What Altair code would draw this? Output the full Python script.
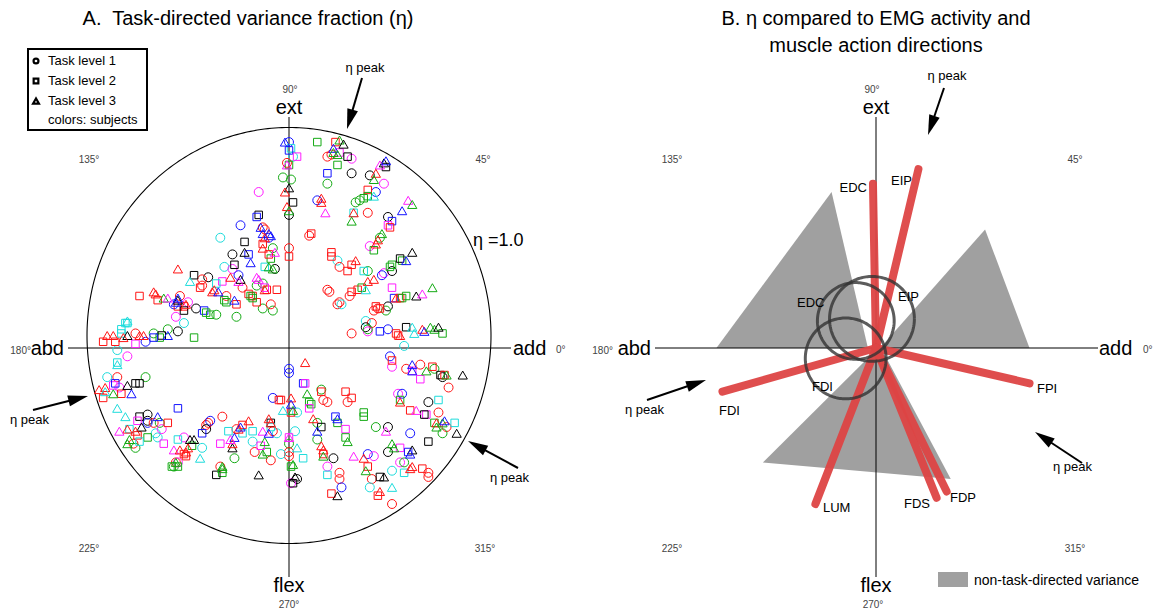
import math
import altair as alt
import pandas as pd
import numpy as np

FONT = "Liberation Sans"

# ================= Panel A data (eta components: x = add(+)/abd(-), y = ext(+)/flex(-)) =================
# Task level 1 (circles)
l1_subj = list("bcrggkmrrm" "kgkmbggbrk" "grmrcrgmbk" "rrrrrckgrr" "crkmgrbcbm" "rrgbkrgrrr"
               "cmbkrrgbgg" "kgcgrrmkbm" "kmgrrcrrrb" "crkmcrgmkk" "brgrgccmmc" "rgmrrbkrgr"
               "crrccrbrbc" "kcmbkrrrgr" "ggrggkgrrb" "rbmkgmckgg" "brcmb")
l1_x = [.00, .02, -.01, -.03, .01, .00, -.15, .19, .21, .31,
        .31, .19, .40, .47, .43, .33, .35, .14, .39, .49,
        .45, .10, .40, .00, .24, .25, .39, .47, .46, .51,
        .19, .20, .30, .24, .25, .26, .49, .48, .44, .42,
        .38, .41, .38, .39, .39, .31, .49, .57, .50, .51,
        .58, .65, .72, .00, .76, .79, .16, .29, .17, .19,
        .04, .54, .56, .69, .74, .78, .76, .60, .14, .43,
        .49, .14, .03, .00, .00, .00, .19, .22, .39, .42,
        .49, .55, .57, .69, .69, .51, .25, .25, .41, .26,
        .40, .51, .04, .01, -.90, -.85, -.71, -.84, -.70, -.70,
        -.70, -.67, -.64, -.77, -.76, -.66, -.65, -.63, -.52, -.43,
        -.56, -.57, -.55, -.41, -.40, -.39, -.41, -.33, -.27, -.34,
        -.18, -.17, -.09, -.06, -.04, -.08, -.08, -.26, -.24, -.34,
        -.28, -.32, -.28, -.25, -.40, -.43, -.43, -.31, -.26, -.23,
        -.13, -.08, -.09, -.16, -.13, -.07, -.08, -.13, -.12, -.10,
        -.54, -.57, -.50, -.46, -.36, -.56, -.52, -.55, -.60, -.67,
        -.71, -.76, -.85, -.80, .00]
l1_y = [.99, .92, .89, .82, .81, .64, .75, .92, .93, .91,
        .84, .79, .83, .79, .75, .70, .71, .71, .65, .63,
        .53, .54, .49, .48, .42, .39, .37, .36, .35, .37,
        .28, .27, .25, .21, .22, .21, .20, .18, .19, .18,
        .13, .12, .10, .08, .09, .07, .09, .01, -.04, -.09,
        -.10, -.08, -.10, -.12, -.14, -.19, -.20, -.26, -.25, -.26,
        -.31, -.22, -.22, -.26, -.31, -.38, -.41, -.41, -.36, -.38,
        -.38, -.44, -.40, -.46, -.50, -.52, -.57, -.53, -.51, -.52,
        -.50, -.55, -.55, -.60, -.62, -.59, -.60, -.63, -.63, -.67,
        -.67, -.75, -.63, -.65, -.14, -.14, -.14, -.19, -.32, -.35,
        -.36, -.36, -.36, -.46, -.48, -.41, -.43, -.39, -.43, -.48,
        -.55, -.57, -.55, -.37, -.36, -.35, -.39, -.33, -.53, -.57,
        -.45, -.50, -.54, -.41, -.51, -.40, -.24, -.39, .59, .53,
        .45, .39, .38, .35, .34, .33, .30, .25, .15, .29,
        .19, .18, .21, .30, .31, .38, .48, .58, .57, .53,
        .25, .21, .22, .19, .16, .15, .12, .08, .09, .07,
        .03, .07, -.01, -.04, -.10]

# Task level 2 (squares)
l2_subj = list("cbmgkkbgrm" "kgbkrggcbm" "rrgrrrrrcg" "ggkrrgmgbr" "grrbkrrgrr" "mkrmbmrrrg"
               "gmrrgcrmkg" "ckbgkggmgm" "cgrcrmbcrk" "rrkkkmbrrb" "krmcrgcmcg" "rrggbmcrgk"
               "ccgmkcr" "kbkkrmcggrrr" "rggrrmcgr" "rrrrrkbggg" "gkbmrrccccc")
l2_x = [.01, .00, .04, .00, .02, -.15, -.16, .14, .23, .25,
        .29, .24, .19, .48, .39, .39, .37, .32, .51, .49,
        .50, .11, .42, .00, .21, .21, .31, .29, .37, .50,
        .51, .56, .55, .31, .34, .36, .51, .58, .52, .55,
        .56, .43, .45, .45, .58, .53, .54, .76, .51, .71,
        .61, .75, .77, .65, .07, .08, .16, .28, .31, .10,
        .11, .10, -.04, .01, .55, .74, .60, .68, .67, .72,
        .82, .69, .23, .24, .16, .37, .37, .28, .28, .00,
        .07, .01, .17, .19, .39, .55, .59, .57, .66, .45,
        .44, .21, .02, -.76, -.74, -.87, -.86, -.92, -.83, -.55,
        -.74, -.60, -.75, -.79, -.75, -.70, -.74, -.62, -.55, -.48,
        -.52, -.51, -.58, -.55, -.43, -.34, -.30, -.23, -.33, -.36,
        -.23, -.18, -.11, -.14, -.09, -.09, -.05,
        -.22, -.20, -.27, -.47, -.44, -.33, -.36, -.32, -.31, -.26, -.20, -.18,
        -.16, -.19, -.18, -.06, -.11, -.12, -.12, -.09, -.10,
        -.13, -.74, -.65, -.55, -.52, -.52, -.42, -.41, -.39, -.47,
        -.64, -.63, -.67, -.76, -.92, -.86, -.83, -.81, -.80, -.83, -.85]
l2_y = [.96, .95, .92, .88, .70, .64, .63, .99, .99, .94,
        .92, .88, .84, .87, .76, .73, .72, .65, .61, .59,
        .58, .55, .47, .44, .46, .44, .40, .37, .37, .39,
        .40, .42, .43, .27, .28, .29, .29, .25, .24, .24,
        .24, .20, .19, .08, .10, .07, .06, .07, -.06, -.09,
        -.11, -.13, -.13, -.15, -.17, -.17, -.21, -.21, -.24, -.26,
        -.27, -.29, -.25, -.31, -.25, -.25, -.30, -.32, -.32, -.36,
        -.36, -.45, -.33, -.36, -.38, -.31, -.33, -.39, -.43, -.43,
        -.53, -.57, -.51, -.61, -.57, -.48, -.50, -.60, -.58, -.62,
        -.71, -.70, -.65, -.17, -.17, -.18, -.17, -.24, -.22, -.29,
        -.33, -.36, -.35, -.39, -.42, -.43, -.45, -.46, -.44, -.47,
        -.51, -.52, -.57, -.57, -.41, -.46, -.40, -.37, -.60, -.61,
        -.41, -.40, -.50, -.47, -.36, -.38, -.25,
        .51, .45, .40, .35, .29, .32, .31, .23, .22, .21, .26, .25,
        .22, .25, .24, .28, .28, .29, .39, .43, .45,
        .50, .25, .23, .20, .20, .18, .18, .17, .16, .05,
        .05, .06, .05, .02, .03, .03, .09, .12, .12, .07, -.07]

# Task level 3 (triangles)
l3_subj = list("bmkrrggkbg" "gkmbrgcrrm" "rgbmggrrrr" "rbkckmgrrc" "crbggkrbbg" "gkgrbgrmrg"
               "bgkrbbmgcg" "rrgmrgggkb" "rrkrckkckr" "rgcbccbkrm" "rggkkmrrrc" "grrbbkrmgg"
               "mggrrbkcmk" "bkmrcrrrbb" "rmmggrmbbb" "brrrgmkbbr" "brrkrrcr")
l3_x = [-.02, -.01, .00, -.02, -.01, .00, .25, .27, .22, .22,
        .24, .47, .45, .48, .43, .42, .42, .16, .16, .18,
        .32, .31, .56, .59, .61, .46, .44, .43, .33, .39,
        .42, .58, .61, .38, .63, .66, .71, .53, .55, .61,
        .62, .66, .67, .70, .72, .74, .08, .61, .61, .68,
        .78, .86, .09, .01, .01, .02, .55, .63, .73, .76,
        .77, .73, .83, .12, .24, .14, .48, .29, .04, .02,
        .16, .17, .17, .32, .37, .38, .51, .52, .61, .60,
        .61, .60, .47, .45, .51, .24, .03, -.85, -.80, -.94,
        -.91, -.87, -.91, -.78, -.85, -.81, -.65, -.73, -.80, -.84,
        -.76, -.79, -.80, -.49, -.47, -.57, -.54, -.50, -.51, -.44,
        -.56, -.25, -.20, -.24, -.27, -.28, -.28, -.29, -.33, -.33,
        -.13, -.12, -.13, -.10, -.09, -.10, -.15, -.03, .00, -.22,
        -.19, -.24, -.25, -.55, -.49, -.29, -.37, -.38, -.35, -.27,
        -.12, -.16, -.15, -.10, -.08, -.13, -.07, -.14, -.13, -.10,
        -.09, -.12, -.67, -.66, -.62, -.60, -.55, -.55, -.56, -.51,
        -.60, -.72, -.74, -.80, -.90, -.87, -.80, -.82]
l3_y = [.99, .88, .77, .75, .68, .66, 1.00, .98, .96, .94,
        .93, .89, .88, .90, .84, .81, .73, .72, .70, .65,
        .65, .61, .66, .71, .69, .55, .52, .50, .42, .32,
        .33, .42, .46, .28, .25, .26, .29, .24, .06, .10,
        .07, .09, .08, .10, .09, .10, -.07, -.08, -.11, -.11,
        -.13, -.13, -.22, -.24, -.27, -.30, -.26, -.30, -.36, -.36,
        -.35, -.38, -.41, -.34, -.34, -.40, -.40, -.45, -.48, -.56,
        -.47, -.49, -.52, -.52, -.53, -.59, -.46, -.48, -.49, -.51,
        -.57, -.58, -.62, -.69, -.67, -.71, -.62, -.08, -.18, -.20,
        -.19, -.22, -.21, -.22, -.29, -.33, -.33, -.38, -.39, -.40,
        -.40, -.44, -.46, -.44, -.44, -.49, -.49, -.48, -.50, -.53,
        -.55, -.39, -.35, -.38, -.43, -.48, -.46, -.44, -.57, -.58,
        -.40, -.45, -.51, -.34, -.36, -.41, -.61, -.30, -.43, .46,
        .41, .33, .32, .38, .32, .34, .28, .27, .27, .23,
        .28, .34, .33, .39, .38, .48, .46, .58, .55, .55,
        .54, .53, .27, .26, .24, .24, .23, .24, .22, .21,
        .06, .06, .06, .06, .06, .06, .13, .05]

subj_codes = ["k", "b", "r", "g", "m", "c"]
subj_colors = ["#000000", "#1414ff", "#ff1414", "#14aa14", "#ff1eff", "#1edcdc"]

# ================= Panel B data =================
muscles = ["EDC", "EIP", "FDI", "FPI", "LUM", "FDS", "FDP"]
mus_x = [-0.015, 0.21, -0.76, 0.76, -0.30, 0.30, 0.35]
mus_y = [0.79, 0.86, -0.21, -0.17, -0.75, -0.72, -0.69]

circ_name = ["EDC", "EIP", "FDI"]
circ_x = [-0.10, -0.02, -0.15]
circ_y = [0.13, 0.14, -0.05]
circ_r = [0.19, 0.21, 0.20]

# non-task-directed variance triangles (vertices)
tri1 = [(-0.79, 0.0), (-0.22, 0.75), (-0.04, 0.0)]
tri2 = [(0.02, 0.0), (0.54, 0.57), (0.76, 0.0)]
tri3 = [(-0.56, -0.55), (0.02, 0.01), (0.37, -0.63)]

# ================= layout =================
KX, KY = 202.0, 208.0          # pixels per eta unit
AOX, AOY = 289, 348            # panel A origin (page px)
BOX, BOY = 876, 348            # panel B origin (page px)
WA, WB, H = 575, 579, 599
A_LEFT, B_LEFT, TOP = 8, 583, 8

xsA = alt.Scale(domain=[-(AOX - A_LEFT) / KX, -(AOX - A_LEFT) / KX + WA / KX], nice=False, zero=False)
xsB = alt.Scale(domain=[-(BOX - B_LEFT) / KX, -(BOX - B_LEFT) / KX + WB / KX], nice=False, zero=False)
ys = alt.Scale(domain=[(AOY - TOP - H) / KY, (AOY - TOP) / KY], nice=False, zero=False)


def pa(px, py):
    return (px - AOX) / KX, (AOY - py) / KY


def pb(px, py):
    return (px - BOX) / KX, (BOY - py) / KY


def enc_xy(xs, xf="x", yf="y"):
    return dict(x=alt.X(f"{xf}:Q", scale=xs, axis=None), y=alt.Y(f"{yf}:Q", scale=ys, axis=None))


def text_layers(rows, conv, xs):
    out = []
    for al in ["left", "center", "right"]:
        sub = [r for r in rows if r[4] == al]
        if not sub:
            continue
        df = pd.DataFrame([{"t": r[0], "x": conv(r[1], r[2])[0], "y": conv(r[1], r[2])[1],
                            "s": r[3], "c": r[5] if len(r) > 5 else "#000000"} for r in sub])
        out.append(alt.Chart(df).mark_text(align=al, baseline="alphabetic", font=FONT).encode(
            **enc_xy(xs), text="t:N",
            size=alt.Size("s:Q", scale=None, legend=None),
            color=alt.Color("c:N", scale=None, legend=None)))
    return out


HEAD = 20
HEAD_PATH = "M0,-1L0.55,1L-0.55,1Z"


def arrow_layers(arrows, conv, xs):
    sh, hd = [], []
    for tx, ty, hx, hy in arrows:
        dx, dy = hx - tx, hy - ty
        L = math.hypot(dx, dy)
        ux, uy = dx / L, dy / L
        bx, by = hx - ux * HEAD * 0.75, hy - uy * HEAD * 0.75
        cx, cy = hx - ux * HEAD / 2, hy - uy * HEAD / 2
        ang = math.degrees(math.atan2(dx, -dy)) % 360
        x0, y0 = conv(tx, ty)
        x1, y1 = conv(bx, by)
        sh.append({"x": x0, "y": y0, "x2": x1, "y2": y1})
        c = conv(cx, cy)
        hd.append({"x": c[0], "y": c[1], "a": ang})
    shaft = alt.Chart(pd.DataFrame(sh)).mark_rule(color="black", strokeWidth=2).encode(
        **enc_xy(xs), x2="x2:Q", y2="y2:Q")
    head = alt.Chart(pd.DataFrame(hd)).mark_point(shape=HEAD_PATH, filled=True, color="black",
                                                  opacity=1, size=HEAD * HEAD, strokeWidth=0).encode(
        **enc_xy(xs), angle=alt.Angle("a:Q", scale=None))
    return [shaft, head]


def axes_layers(xs, conv, ox):
    h0 = conv(ox - 221, 348)
    h1 = conv(ox + 222, 348)
    v0 = conv(ox, 117)
    v1 = conv(ox, 577)
    df = pd.DataFrame([{"x": h0[0], "y": 0.0, "x2": h1[0], "y2": 0.0},
                       {"x": 0.0, "y": v0[1], "x2": 0.0, "y2": v1[1]}])
    return [alt.Chart(df).mark_rule(color="black", strokeWidth=1).encode(**enc_xy(xs), x2="x2:Q", y2="y2:Q")]


color_enc = alt.Color("s:N", scale=alt.Scale(domain=subj_codes, range=subj_colors), legend=None)

# ---------------- Panel A ----------------
layersA = []
th = np.linspace(0, 2 * np.pi, 361)
circA = pd.DataFrame({"x": np.cos(th), "y": 0.06 + np.sin(th), "i": np.arange(361)})
layersA.append(alt.Chart(circA).mark_line(color="black", strokeWidth=1.1).encode(
    **enc_xy(xsA), order="i:Q"))
layersA += axes_layers(xsA, pa, AOX)

for subj, xv, yv, shape, size in [(l1_subj, l1_x, l1_y, "circle", 80),
                                   (l2_subj, l2_x, l2_y, "square", 56),
                                   (l3_subj, l3_x, l3_y, "triangle-up", 85)]:
    n = min(len(subj), len(xv), len(yv))
    df = pd.DataFrame({"s": subj[:n], "x": xv[:n], "y": yv[:n]})
    layersA.append(alt.Chart(df).mark_point(shape=shape, filled=False, size=size, strokeWidth=1,
                                            opacity=1).encode(**enc_xy(xsA), color=color_enc))

lb0 = pa(28, 49)
lb1 = pa(147, 130)
layersA.append(alt.Chart(pd.DataFrame([{"x": lb0[0], "y": lb0[1], "x2": lb1[0], "y2": lb1[1]}])).mark_rect(
    fillOpacity=0, stroke="black", strokeWidth=2).encode(**enc_xy(xsA), x2="x2:Q", y2="y2:Q"))
for (py, shape, sz) in [(61, "circle", 24), (81, "square", 22), (101, "triangle-up", 34)]:
    p = pa(36, py)
    layersA.append(alt.Chart(pd.DataFrame([{"x": p[0], "y": p[1]}])).mark_point(
        shape=shape, filled=False, size=sz, strokeWidth=2.2, color="black", opacity=1).encode(**enc_xy(xsA)))

GR = "#444444"
textsA = [
    ("A.\u00a0 Task-directed variance fraction (\u03b7)", 248, 25, 20, "center"),
    ("Task level 1", 48, 65, 13, "left"),
    ("Task level 2", 48, 85, 13, "left"),
    ("Task level 3", 48, 105, 13, "left"),
    ("colors: subjects", 48, 124, 13, "left"),
    ("90\u00b0", 290, 93, 10, "center", GR),
    ("ext", 289, 114, 20, "center"),
    ("flex", 289, 592, 20, "center"),
    ("270\u00b0", 289, 608, 10, "center", GR),
    ("abd", 64, 355, 20, "right"),
    ("180\u00b0", 31, 354, 10, "right", GR),
    ("add", 513, 355, 20, "left"),
    ("0\u00b0", 556, 353, 10, "left", GR),
    ("135\u00b0", 89, 163, 10, "center", GR),
    ("45\u00b0", 483, 163, 10, "center", GR),
    ("225\u00b0", 89, 552, 10, "center", GR),
    ("315\u00b0", 485, 552, 10, "center", GR),
    ("\u03b7 =1.0", 473, 246, 18, "left"),
    ("\u03b7 peak", 365, 72, 13, "center"),
    ("\u03b7 peak", 10, 424, 13, "left"),
    ("\u03b7 peak", 490, 482, 13, "left"),
]
layersA += text_layers(textsA, pa, xsA)
layersA += arrow_layers([(362, 78, 347, 129), (33, 410, 88, 396), (518, 468, 468, 441)], pa, xsA)

panelA = alt.layer(*layersA).properties(width=WA, height=H)

# ---------------- Panel B ----------------
layersB = []


def lin(x, p, q):
    return p[1] + (q[1] - p[1]) * (x - p[0]) / (q[0] - p[0])


trows = []
for tid, tri in enumerate([tri1, tri2, tri3]):
    pts = sorted(tri)
    (xa, ya), (xb, yb), (xc, yc) = pts
    mid_other = lin(xb, pts[0], pts[2])
    trows.append({"t": tid, "x": xa, "y": ya, "y2": ya})
    trows.append({"t": tid, "x": xb, "y": yb, "y2": mid_other})
    trows.append({"t": tid, "x": xc, "y": yc, "y2": yc})
layersB.append(alt.Chart(pd.DataFrame(trows)).mark_area(color="#a0a0a0", opacity=1).encode(
    **enc_xy(xsB), y2="y2:Q", detail="t:N"))
layersB += axes_layers(xsB, pb, BOX)

mdf = pd.DataFrame({"m": muscles, "x": [0.0] * len(muscles), "y": [0.0] * len(muscles),
                    "x2": mus_x, "y2": mus_y})
layersB.append(alt.Chart(mdf).mark_rule(color="#dd4444", strokeWidth=8, strokeCap="round", opacity=0.95).encode(
    **enc_xy(xsB), x2="x2:Q", y2="y2:Q", detail="m:N"))

crow = []
for nm, cx, cy, r in zip(circ_name, circ_x, circ_y, circ_r):
    for i, t in enumerate(np.linspace(0, 2 * np.pi, 181)):
        crow.append({"c": nm, "i": i, "x": cx + r * np.cos(t), "y": cy + r * KX / KY * np.sin(t)})
layersB.append(alt.Chart(pd.DataFrame(crow)).mark_line(color="#333333", strokeWidth=3, opacity=0.8).encode(
    **enc_xy(xsB), detail="c:N", order="i:Q"))

s0 = pb(938, 572)
s1 = pb(968, 587)
layersB.append(alt.Chart(pd.DataFrame([{"x": s0[0], "y": s0[1], "x2": s1[0], "y2": s1[1]}])).mark_rect(
    color="#a0a0a0").encode(**enc_xy(xsB), x2="x2:Q", y2="y2:Q"))

textsB = [
    ("B. \u03b7 compared to EMG activity and", 876, 25, 20, "center"),
    ("muscle action directions", 876, 52, 20, "center"),
    ("90\u00b0", 872, 93, 10, "center", GR),
    ("ext", 876, 114, 20, "center"),
    ("flex", 876, 592, 20, "center"),
    ("270\u00b0", 873, 608, 10, "center", GR),
    ("abd", 651, 355, 20, "right"),
    ("180\u00b0", 613, 354, 10, "right", GR),
    ("add", 1099, 355, 20, "left"),
    ("0\u00b0", 1143, 353, 10, "left", GR),
    ("135\u00b0", 672, 163, 10, "center", GR),
    ("45\u00b0", 1075, 163, 10, "center", GR),
    ("225\u00b0", 672, 552, 10, "center", GR),
    ("315\u00b0", 1075, 552, 10, "center", GR),
    ("\u03b7 peak", 947, 80, 13, "center"),
    ("\u03b7 peak", 625, 414, 13, "left"),
    ("\u03b7 peak", 1053, 471, 13, "left"),
    ("EDC", 867, 192, 13, "right"),
    ("EIP", 891, 185, 13, "left"),
    ("FDI", 719, 415, 13, "left"),
    ("FPI", 1037, 393, 13, "left"),
    ("LUM", 823, 512, 13, "left"),
    ("FDS", 930, 508, 13, "right"),
    ("FDP", 950, 502, 13, "left"),
    ("EDC", 797, 307, 13, "left"),
    ("EIP", 898, 301, 13, "left"),
    ("FDI", 812, 391, 13, "left"),
    ("non-task-directed variance", 974, 585, 14, "left"),
]
layersB += text_layers(textsB, pb, xsB)
layersB += arrow_layers([(944, 88, 928, 135), (647, 400, 706, 380), (1082, 463, 1035, 432)], pb, xsB)

panelB = alt.layer(*layersB).properties(width=WB, height=H)

chart = alt.hconcat(panelA, panelB, spacing=0, bounds="flush").properties(
    padding=0
).configure_view(stroke=None)

chart.save("out.html", embed_options={"renderer": "svg", "actions": False})
